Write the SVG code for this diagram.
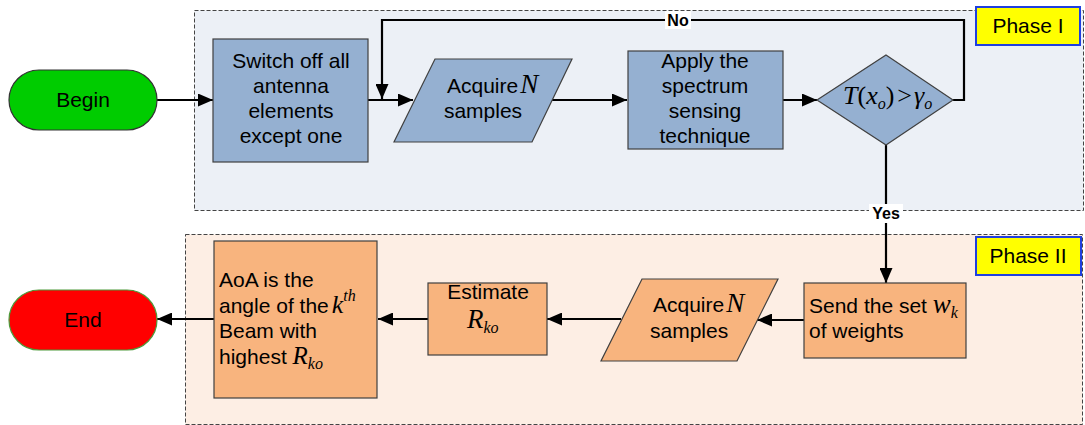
<svg xmlns="http://www.w3.org/2000/svg" width="1085" height="425" viewBox="0 0 1085 425">
<style>
.phase{stroke:#444;stroke-width:1;stroke-dasharray:4,2}
.blue{fill:#95B0D1;stroke:#404040;stroke-width:1.2}
.orange{fill:#F8B47E;stroke:#404040;stroke-width:1.2}
.lbl{fill:#FFFF00;stroke:#1F3FE0;stroke-width:2}
.t{font-family:"Liberation Sans",Arial,sans-serif;font-size:21px;fill:#000}
.c{text-anchor:middle}
.m{font-family:"Liberation Serif","Times New Roman",serif;font-style:italic;fill:#000}
.b{font-family:"Liberation Sans",Arial,sans-serif;font-size:16px;font-weight:bold;text-anchor:middle}
.conn{fill:none;stroke:#000;stroke-width:2.2}
</style>
<defs>
<marker id="ah" viewBox="0 0 15 13" refX="15" refY="6.5" markerWidth="15" markerHeight="13" markerUnits="userSpaceOnUse" orient="auto">
<path d="M0,0 L15,6.5 L0,13 z" fill="#000"/>
</marker>
</defs>
<g id="phase1">
<rect class="phase" x="194.5" y="10.5" width="889" height="200" fill="#ECF0F6"/>
</g>
<g id="phase2">
<rect class="phase" x="185.5" y="234.5" width="897" height="190" fill="#FDEEE4"/>
</g>
<g id="phase1-label">
<rect class="lbl" x="976" y="7" width="104" height="38"/>
<text class="t c" x="1028" y="33">Phase I</text>
</g>
<g id="phase2-label">
<rect class="lbl" x="976" y="237" width="105" height="38"/>
<text class="t c" x="1028" y="263">Phase II</text>
</g>
<g id="connectors">
<path class="conn" d="M157,100 H213" marker-end="url(#ah)"/>
<path class="conn" d="M368,100 H413" marker-end="url(#ah)"/>
<path class="conn" d="M953,100 H964 V20 H382 V99" marker-end="url(#ah)"/>
<path class="conn" d="M552,100 H627" marker-end="url(#ah)"/>
<path class="conn" d="M783,100 H817" marker-end="url(#ah)"/>
<path class="conn" d="M886,145 V283" marker-end="url(#ah)"/>
<path class="conn" d="M804,320 H757" marker-end="url(#ah)"/>
<path class="conn" d="M621,319 H547" marker-end="url(#ah)"/>
<path class="conn" d="M428,319 H378" marker-end="url(#ah)"/>
<path class="conn" d="M214,319 H157" marker-end="url(#ah)"/>
<rect x="665" y="11" width="26" height="18" fill="#fff"/>
<text class="b" x="678" y="26">No</text>
<rect x="869" y="204" width="34" height="19" fill="#fff"/>
<text class="b" x="886" y="219">Yes</text>
</g>
<g id="begin">
<rect x="9" y="70" width="148" height="60" rx="30" ry="30" fill="#00CC00" stroke="#333" stroke-width="1.2"/>
<text class="t c" x="83" y="107">Begin</text>
</g>
<g id="switch">
<rect class="blue" x="213" y="39" width="155" height="123"/>
<text class="t c" x="291" y="68">Switch off all</text>
<text class="t c" x="291" y="93">antenna</text>
<text class="t c" x="291" y="118">elements</text>
<text class="t c" x="291" y="143">except one</text>
</g>
<g id="acquire1">
<polygon class="blue" points="435,59 572,59 532,142 394,142"/>
<text class="t" x="447" y="93">Acquire<tspan class="m" font-size="27" dx="2">N</tspan></text>
<text class="t c" x="483" y="118">samples</text>
</g>
<g id="apply">
<rect class="blue" x="628" y="51" width="155" height="98"/>
<text class="t c" x="705" y="68">Apply the</text>
<text class="t c" x="705" y="93">spectrum</text>
<text class="t c" x="705" y="118">sensing</text>
<text class="t c" x="705" y="143">technique</text>
</g>
<g id="decision">
<polygon class="blue" points="886,55 953,100 886,145 817,100"/>
<text class="m" x="843" y="104" font-size="26">T<tspan font-style="normal">(</tspan>x<tspan font-size="16" dy="5">o</tspan><tspan font-style="normal" dy="-5">)</tspan><tspan font-style="normal" dx="3">&gt;</tspan><tspan dx="2">γ</tspan><tspan font-size="16" dy="5">o</tspan></text>
</g>
<g id="send">
<rect class="orange" x="804" y="283" width="162" height="75"/>
<text class="t" x="809" y="313">Send the set <tspan class="m" font-size="27">w</tspan><tspan class="m" font-size="16" dy="5">k</tspan></text>
<text class="t" x="809" y="338">of weights</text>
</g>
<g id="acquire2">
<polygon class="orange" points="642,279 778,279 737,361 601,361"/>
<text class="t" x="653" y="312">Acquire<tspan class="m" font-size="27" dx="2">N</tspan></text>
<text class="t" x="650" y="338">samples</text>
</g>
<g id="estimate">
<rect class="orange" x="428" y="283" width="119" height="72"/>
<text class="t c" x="488" y="299">Estimate</text>
<text class="m" x="467" y="328" font-size="27">R<tspan font-size="16" dy="5">ko</tspan></text>
</g>
<g id="aoa">
<rect class="orange" x="214" y="241" width="163" height="157"/>
<text class="t" x="219" y="287">AoA is the</text>
<text class="t" x="219" y="313">angle of the<tspan class="m" font-size="26" dx="3">k</tspan><tspan class="m" font-size="16" dy="-12">th</tspan></text>
<text class="t" x="219" y="338">Beam with</text>
<text class="t" x="219" y="364">highest <tspan class="m" font-size="25">R</tspan><tspan class="m" font-size="16" dy="5">ko</tspan></text>
</g>
<g id="end">
<rect x="9" y="290" width="148" height="60" rx="30" ry="30" fill="#FF0000" stroke="#4C9A3A" stroke-width="1.2"/>
<text class="t c" x="83" y="327">End</text>
</g>
</svg>
